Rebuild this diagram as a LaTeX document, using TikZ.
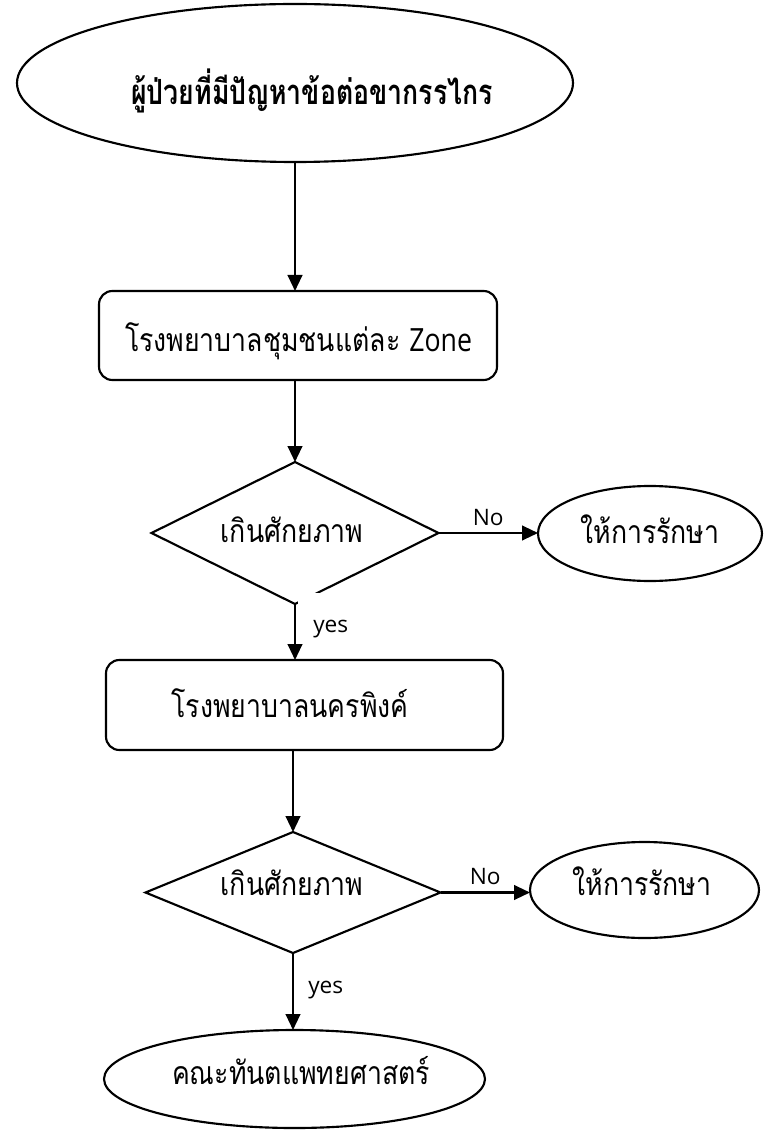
\documentclass[tikz,border=0pt]{standalone}
\usepackage{fontspec}
\usetikzlibrary{shapes.geometric,arrows.meta}
\newfontfamily\thaifont[Script=Thai]{Loma}
\newfontfamily\latfont{Open Sans}
\newcommand{\tall}[1]{\scalebox{1}[1.2]{#1}}
\tikzset{
  shp/.style={draw, line width=1.6pt, inner sep=0pt, outer sep=0pt},
  ell/.style={shp, ellipse},
  box/.style={shp, rectangle, rounded corners=10pt},
  dia/.style={shp, diamond},
  txt/.style={inner sep=0pt, font=\thaifont\fontsize{20}{24}\selectfont},
  btxt/.style={txt, font=\thaifont\bfseries\fontsize{20}{24}\selectfont},
  lbl/.style={inner sep=0pt, font=\latfont\fontsize{17}{20}\selectfont},
  arr/.style={line width=1.6pt, -{Triangle[length=12pt,width=11pt]}},
}
\begin{document}
\begin{tikzpicture}[x=0.75pt,y=-0.75pt]
\useasboundingbox (0,0) rectangle (764,1130);
% shapes
\node[ell, minimum width=417pt, minimum height=118.5pt] (e1) at (295,83) {};
\node[box, minimum width=298.5pt, minimum height=66.75pt] (b1) at (298,335.5) {};
\node[dia, minimum width=215.25pt, minimum height=106.5pt] (d1) at (295,533) {};
\node[ell, minimum width=168pt, minimum height=71.25pt] (r1) at (650,533.5) {};
\node[box, minimum width=297.75pt, minimum height=67.5pt] (b2) at (304.5,705) {};
\node[dia, minimum width=221.25pt, minimum height=90.75pt] (d2) at (293,892.5) {};
\node[ell, minimum width=171.75pt, minimum height=72pt] (r2) at (644.5,890) {};
\node[ell, minimum width=285.75pt, minimum height=73.5pt] (e3) at (294.5,1079) {};
% texts
\node[btxt] (t1) at (312,91) {\scalebox{1}[1.3]{ผู้ป่วยที่มีปัญหาข้อต่อขากรรไกร}};
\node[txt] (t2) at (298.5,341) {\tall{โรงพยาบาลชุมชนแต่ละ {\latfont Zone}}};
\node[txt] (t3) at (292,530) {\tall{เกินศักยภาพ}};
\node[txt] (t4) at (290,703) {\tall{โรงพยาบาลนครพิงค์}};
\node[txt] (t5) at (292,883) {\tall{เกินศักยภาพ}};
\node[txt] (t6) at (650,529) {\tall{ให้การรักษา}};
\node[txt] (t7) at (642,881) {\tall{ให้การรักษา}};
\node[txt] (t8) at (301,1071) {\tall{คณะทันตแพทยศาสตร์}};
% connectors
\draw[arr] (e1.south) -- (e1.south |- b1.north);
\draw[arr] (d1.north |- b1.south) -- (d1.north);
\draw[arr] (d1.east) -- (d1.east -| r1.west) node[lbl, midway, above=5pt] (n1) {No};
\fill[white] (298,593) rectangle (420,650);
\draw[arr] (d1.south) -- (d1.south |- b2.north);
\node[lbl, anchor=west] (y1) at (313,629) {yes};
\draw[arr] (d2.north |- b2.south) -- (d2.north);
\draw[arr] (d2.east) -- (d2.east -| r2.west) node[lbl, midway, above=5pt] (n2) {No};
\draw[arr] (d2.south) -- (d2.south |- e3.north);
\node[lbl, anchor=west] (y2) at (308,990) {yes};
\end{tikzpicture}
\end{document}
